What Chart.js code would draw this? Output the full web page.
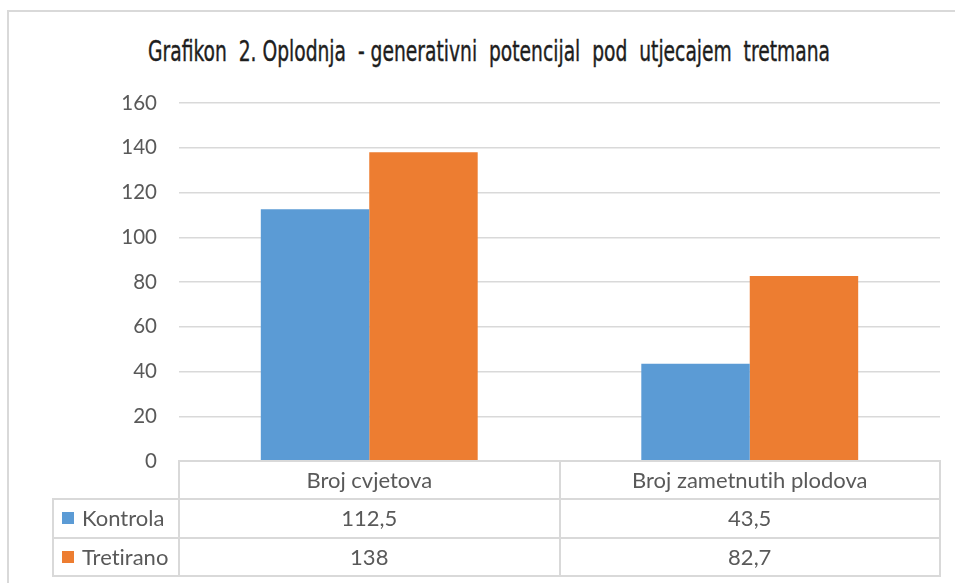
<!DOCTYPE html>
<html>
<head>
<meta charset="utf-8">
<script src="https://cdn.jsdelivr.net/npm/chart.js@4/dist/chart.umd.min.js"></script>
<style>
html,body{margin:0;padding:0;background:#fff;width:955px;height:583px;overflow:hidden;position:relative;}
#frame{position:absolute;left:7px;top:10px;width:1000px;height:1000px;border:2px solid #d9d9d9;box-sizing:border-box;}
#title{position:absolute;left:148px;top:38px;white-space:pre;font-family:"DejaVu Sans Condensed","DejaVu Sans",sans-serif;font-stretch:condensed;font-size:28px;line-height:28px;color:#1e1e1e;transform-origin:0 0;-webkit-text-stroke:0.4px #1e1e1e;}
#wrap{position:absolute;left:0;top:0;width:955px;height:583px;}
.ln{position:absolute;background:#d9d9d9;}
.txt{position:absolute;font-family:Lato,"Liberation Sans",sans-serif;font-size:22px;color:#595959;white-space:nowrap;line-height:22px;font-variant-ligatures:none;font-feature-settings:"liga" 0,"dlig" 0;}
.sq{position:absolute;width:12px;height:12px;}
</style>
</head>
<body>
<div id="frame"></div>
<div id="title">Grafikon  2. Oplodnja  - generativni  potencijal  pod  utjecajem  tretmana</div>
<div id="wrap"><canvas id="c" width="955" height="583"></canvas></div>
<div id="table"></div>
<script>
const categories = ["Broj cvjetova", "Broj zametnutih plodova"];
const seriesNames = ["Kontrola", "Tretirano"];
const kontrola = [112.5, 43.5];
const tretirano = [138, 82.7];
const seriesColors = ["#5B9BD5", "#ED7D31"];
const yTicks = [0, 20, 40, 60, 80, 100, 120, 140, 160];

// Fit title width
(function(){
  const t = document.getElementById('title');
  const w = t.getBoundingClientRect().width;
  t.style.transform = 'scaleX(' + (682 / w) + ')';
})();

const chart = new Chart(document.getElementById('c'), {
  type: 'bar',
  data: {
    labels: categories,
    datasets: [
      {label: seriesNames[0], data: kontrola, backgroundColor: seriesColors[0], borderWidth: 0},
      {label: seriesNames[1], data: tretirano, backgroundColor: seriesColors[1], borderWidth: 0}
    ]
  },
  options: {
    responsive: false,
    animation: false,
    events: [],
    layout: {padding: {top: 103, bottom: 122, left: 0, right: 15}},
    plugins: {legend: {display: false}, title: {display: false}, tooltip: {enabled: false}},
    datasets: {bar: {categoryPercentage: 0.57, barPercentage: 1.0}},
    scales: {
      x: {display: false},
      y: {
        min: yTicks[0], max: yTicks[yTicks.length - 1],
        afterBuildTicks: s => { s.ticks = yTicks.map(v => ({value: v})); },
        afterFit: s => { s.width = 179; },
        border: {display: false},
        grid: {color: ctx => ctx.tick && ctx.tick.value === 0 ? 'rgba(0,0,0,0)' : '#d9d9d9', lineWidth: 1.5, drawTicks: false},
        ticks: {padding: 22, color: '#595959', font: {family: 'Lato, "Liberation Sans", sans-serif', size: 20.5}}
      }
    }
  }
});

// Data table under the plot, aligned to the chart's own scale
(function(){
  const ca = chart.chartArea;
  const tbl = document.getElementById('table');
  const rowH = 38.3;
  const tableLeft = 53;
  const lw = 2;
  const colW = (ca.right - ca.left) / categories.length;
  function line(x, y, w, h){
    const d = document.createElement('div'); d.className = 'ln';
    d.style.left = x + 'px'; d.style.top = y + 'px'; d.style.width = w + 'px'; d.style.height = h + 'px';
    tbl.appendChild(d);
  }
  function text(s, cx, cy, align){
    const d = document.createElement('div'); d.className = 'txt'; d.textContent = s;
    tbl.appendChild(d);
    const r = d.getBoundingClientRect();
    d.style.left = (align === 'left' ? cx : cx - r.width / 2) + 'px';
    d.style.top = (cy - 11) + 'px';
  }
  const top = ca.bottom;
  line(ca.left - 1, top - 1, ca.right - ca.left + 2, lw);
  for (let r = 1; r <= 3; r++) line(tableLeft - 1, top + r * rowH - 1, ca.right - tableLeft + 2, lw);
  line(tableLeft - 1, top + rowH - 1, lw, 2 * rowH + 2);
  for (let i = 0; i <= categories.length; i++) line(ca.left + i * colW - 1, top - 1, lw, 3 * rowH + 2);
  categories.forEach((c, i) => text(c, chart.scales.x.getPixelForValue(i), top + rowH / 2, 'center'));
  const rows = [kontrola, tretirano];
  rows.forEach((vals, r) => {
    const cy = top + rowH * (r + 1) + rowH / 2;
    const sq = document.createElement('div'); sq.className = 'sq';
    sq.style.background = seriesColors[r]; sq.style.left = (tableLeft + 9) + 'px'; sq.style.top = (cy - 6) + 'px';
    tbl.appendChild(sq);
    text(seriesNames[r], tableLeft + 29, cy, 'left');
    vals.forEach((v, i) => text(String(v).replace('.', ','), chart.scales.x.getPixelForValue(i), cy, 'center'));
  });
})();
</script>
</body>
</html>
